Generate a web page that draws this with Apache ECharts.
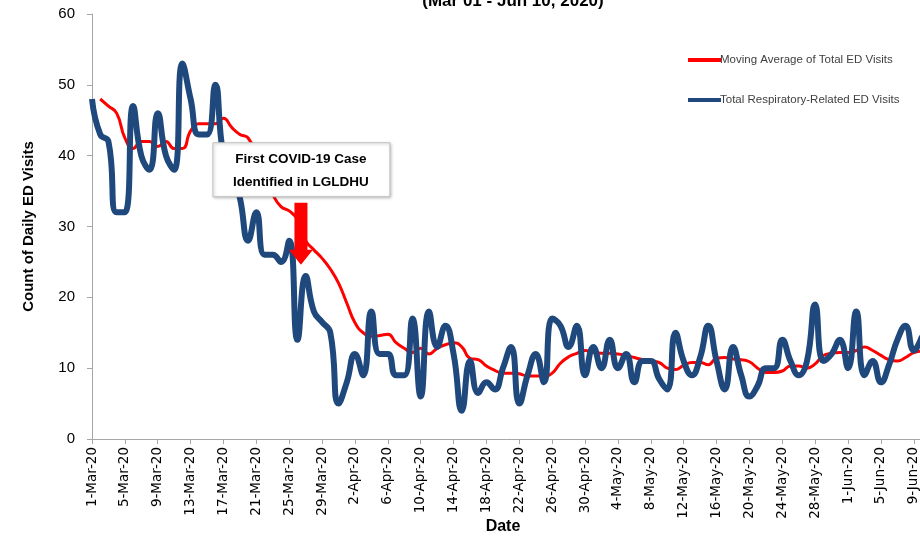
<!DOCTYPE html>
<html>
	<head>
		<meta charset="utf-8">
		<title></title>
		<style type="text/css">
			* {
				margin: 0;
				padding: 0;
			}

			html,
			body {
				width: 100%;
				height: 100%;
				background: #fff;
			}

			#chart {
				width: 920px;
				height: 537px;
			}
		</style>
	</head>
	<body>
		<div id="chart"></div>
		<script src="https://cdn.jsdelivr.net/npm/echarts@6/dist/echarts.min.js"></script>
		<script>
			// days shown on the axis: 1-Mar-20 .. 10-Jun-20
			var startDay = new Date(2020, 2, 1)
			var dayCount = 102
			var monthNames = ['Jan', 'Feb', 'Mar', 'Apr', 'May', 'Jun', 'Jul', 'Aug', 'Sep', 'Oct', 'Nov', 'Dec']

			var dates = []
			for (let i = 0; i < dayCount; i++) {
				let d = new Date(startDay.getTime())
				d.setDate(startDay.getDate() + i)
				dates.push(d.getDate() + '-' + monthNames[d.getMonth()] + '-20')
			}

			// Total Respiratory-Related ED Visits (daily)
			var respVisits = [
				48, 43, 42, 32, 32, 47, 40, 38, 46, 40,
				38, 53, 48, 43, 43, 50, 40, 38, 34, 28,
				32, 26, 26, 25, 28, 14, 23, 18, 16.5, 15,
				5, 8, 12, 9, 18, 12, 12, 9, 9, 17,
				6, 18, 13, 16, 12, 4, 11, 6.5, 8, 7,
				10, 13, 5, 9, 12, 8, 17, 16, 13, 16,
				9, 13, 10, 14, 10, 12, 8, 11, 11, 8.5,
				7, 15, 11, 9, 11.5, 16, 11, 7, 13, 9,
				6, 7.5, 10, 10, 14, 11, 9, 11, 19, 11,
				12, 14, 10, 18, 9, 11, 8, 10.5, 14, 16,
				12.5, 14.5
			]

			// Moving Average of Total ED Visits
			var movingAvg = [
				null, 48, 47, 46, 42.5, 41, 42, 42, 41.3, 42,
				41, 41, 43.5, 44.5, 44.5, 44.5, 45.3, 44, 43, 42.5,
				40, 37, 34.5, 32.8, 32.2, 31, 28, 26.7, 25.5, 24,
				22, 19.2, 16.4, 15, 14.5, 14.6, 14.8, 13.6, 12.8, 12.2,
				12.8, 12, 12.8, 13.3, 13.6, 13, 11.4, 11.2, 10.3, 9.7,
				9.3, 9.3, 9.2, 8.9, 8.9, 8.9, 9.3, 10.7, 11.6, 12.1,
				12.5, 12.2, 12.1, 12.1, 12, 11.8, 11.5, 11.2, 11, 10.8,
				10, 9.8, 10.4, 10.8, 10.8, 10.5, 11.4, 11.5, 11.3, 11.2,
				10.9, 10, 9.4, 9.4, 9.6, 10.3, 10.3, 10, 10.6, 11.8,
				12.1, 12.2, 12.2, 12.5, 13, 12.5, 11.8, 11.2, 11, 11.5,
				12.2, 12.4
			]

			var noteDay = '26-Mar-20'
			var noteValue = 24.6
			var noteLines = ['First COVID-19 Case', 'Identified in LGLDHU']

			var myChart = echarts.init(document.getElementById('chart'))
			var axisFont = 'DejaVu Sans'
			var boldFont = 'Liberation Sans'

			var option = {
				animation: false,
				title: {
					text: '(Mar 01 - Jun 10, 2020)',
					left: 508,
					textAlign: 'center',
					top: -12,
					textStyle: {
						fontFamily: boldFont,
						fontSize: 17,
						fontWeight: 'bold',
						color: '#000'
					}
				},
				legend: {
					orient: 'vertical',
					left: 683,
					top: 49,
					itemGap: 28,
					itemWidth: 33,
					itemHeight: 4,
					icon: 'rect',
					textStyle: {
						fontFamily: boldFont,
						fontSize: 11.5,
						color: '#404040',
						padding: [0, 0, 0, -6]
					},
					data: ['Moving Average of Total ED Visits', 'Total Respiratory-Related ED Visits']
				},
				grid: {
					left: 92,
					top: 14,
					width: 830,
					height: 425,
					outerBoundsMode: 'none'
				},
				xAxis: {
					type: 'category',
					data: dates,
					boundaryGap: false,
					name: 'Date',
					nameLocation: 'middle',
					nameGap: 80,
					nameMoveOverlap: false,
					nameTextStyle: {
						fontFamily: boldFont,
						fontSize: 16,
						fontWeight: 'bold',
						color: '#000',
						padding: [0, 0, 0, -8]
					},
					axisLine: {
						lineStyle: {
							color: '#a6a6a6'
						}
					},
					axisTick: {
						interval: 3,
						length: 5,
						lineStyle: {
							color: '#a6a6a6'
						}
					},
					axisLabel: {
						interval: 3,
						rotate: 90,
						margin: 8,
						fontFamily: axisFont,
						fontSize: 13.5,
						color: '#000'
					},
					splitLine: {
						show: false
					}
				},
				yAxis: {
					type: 'value',
					min: 0,
					max: 60,
					interval: 10,
					name: 'Count of Daily ED Visits',
					nameLocation: 'middle',
					nameGap: 56,
					nameMoveOverlap: false,
					nameRotate: 90,
					nameTextStyle: {
						fontFamily: boldFont,
						fontSize: 15,
						fontWeight: 'bold',
						color: '#000'
					},
					axisLine: {
						show: true,
						lineStyle: {
							color: '#a6a6a6'
						}
					},
					axisTick: {
						show: true,
						length: 5,
						lineStyle: {
							color: '#a6a6a6'
						}
					},
					axisLabel: {
						margin: 17,
						fontFamily: boldFont,
						fontSize: 15,
						color: '#000'
					},
					splitLine: {
						show: false
					}
				},
				series: [{
					name: 'Moving Average of Total ED Visits',
					type: 'line',
					data: movingAvg,
					smooth: 0.5,
					showSymbol: false,
					symbol: 'none',
					color: '#ff0000',
					lineStyle: {
						width: 3,
						color: '#ff0000'
					},
					z: 2
				}, {
					name: 'Total Respiratory-Related ED Visits',
					type: 'line',
					data: respVisits,
					smooth: 0.5,
					showSymbol: false,
					symbol: 'none',
					color: '#1f497d',
					lineStyle: {
						width: 6,
						color: '#1f497d'
					},
					z: 3
				}]
			}
			myChart.setOption(option)

			// annotation: box with text and a red arrow pointing down at the first case day
			var tip = myChart.convertToPixel({ gridIndex: 0 }, [noteDay, noteValue])
			var tx = tip[0] + 3.5
			var ty = tip[1]

			myChart.setOption({
				graphic: [{
					type: 'rect',
					z: 100,
					shape: { x: tx - 88, y: ty - 122, width: 177, height: 54 },
					style: {
						fill: '#fff',
						stroke: '#bfbfbf',
						lineWidth: 1,
						shadowBlur: 3,
						shadowOffsetX: 1,
						shadowOffsetY: 1,
						shadowColor: 'rgba(0,0,0,0.25)'
					}
				}, {
					type: 'text',
					z: 101,
					x: tx,
					y: ty - 105,
					style: {
						text: noteLines[0],
						fontFamily: boldFont,
						fontSize: 13.5,
						fontWeight: 'bold',
						fill: '#000',
						align: 'center',
						verticalAlign: 'middle'
					}
				}, {
					type: 'text',
					z: 101,
					x: tx,
					y: ty - 82,
					style: {
						text: noteLines[1],
						fontFamily: boldFont,
						fontSize: 13.5,
						fontWeight: 'bold',
						fill: '#000',
						align: 'center',
						verticalAlign: 'middle'
					}
				}, {
					type: 'polygon',
					z: 100,
					shape: {
						points: [
							[tx - 6.5, ty - 62],
							[tx + 6.5, ty - 62],
							[tx + 6.5, ty - 15],
							[tx + 12, ty - 15],
							[tx, ty],
							[tx - 12, ty - 15],
							[tx - 6.5, ty - 15]
						]
					},
					style: {
						fill: '#ff0000'
					}
				}]
			})
		</script>
	</body>
</html>
